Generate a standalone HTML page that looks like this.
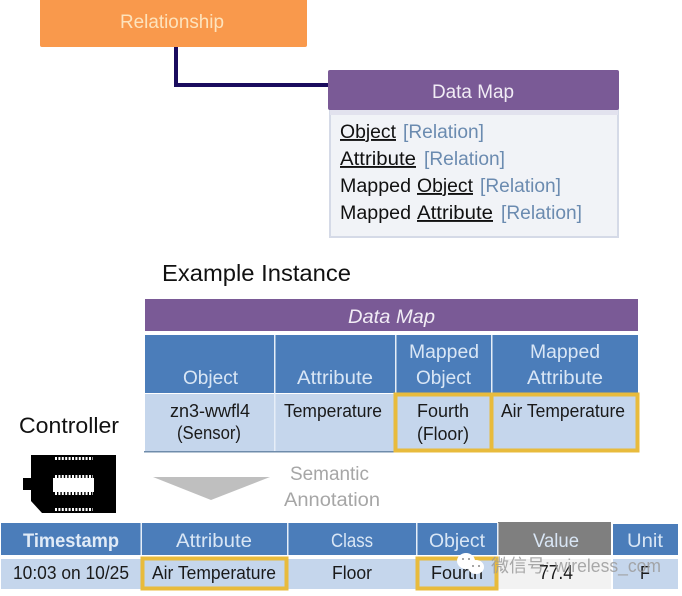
<!DOCTYPE html>
<html>
<head>
<meta charset="utf-8">
<style>
html,body{margin:0;padding:0;background:#fff;width:682px;height:596px;overflow:hidden}
svg{display:block}
text{font-family:"Liberation Sans","Noto Sans CJK SC",sans-serif}
</style>
</head>
<body>
<svg width="682" height="596" viewBox="0 0 682 596" xmlns="http://www.w3.org/2000/svg">
<rect width="682" height="596" fill="#fff"/>

<!-- Relationship -->
<rect x="40" y="-4" width="267" height="51" rx="2" fill="#f9994c"/>
<text x="120" y="28" font-size="19" fill="#fde3bd" textLength="104" lengthAdjust="spacingAndGlyphs">Relationship</text>
<path d="M176 47V85H328" fill="none" stroke="#1a0c5e" stroke-width="4"/>

<!-- Data Map box -->
<rect x="330" y="108" width="288" height="129" fill="#f1f3f7" stroke="#d5dae7" stroke-width="2"/>
<rect x="328" y="70" width="291" height="40" rx="2" fill="#7a5a96"/>
<rect x="330" y="110" width="288" height="5" fill="#e2e2ee"/>
<text x="432" y="98" font-size="19" fill="#f1ecf5" textLength="82" lengthAdjust="spacingAndGlyphs">Data Map</text>
<g font-size="19" fill="#111">
<text x="340" y="138" text-decoration="underline" textLength="56" lengthAdjust="spacingAndGlyphs">Object</text>
<text x="340" y="165" text-decoration="underline" textLength="76" lengthAdjust="spacingAndGlyphs">Attribute</text>
<text x="340" y="192" textLength="71" lengthAdjust="spacingAndGlyphs">Mapped</text>
<text x="417" y="192" text-decoration="underline" textLength="56" lengthAdjust="spacingAndGlyphs">Object</text>
<text x="340" y="219" textLength="71" lengthAdjust="spacingAndGlyphs">Mapped</text>
<text x="417" y="219" text-decoration="underline" textLength="76" lengthAdjust="spacingAndGlyphs">Attribute</text>
</g>
<g font-size="19" fill="#6b8bb0">
<text x="403" y="138" textLength="81" lengthAdjust="spacingAndGlyphs">[Relation]</text>
<text x="424" y="165" textLength="81" lengthAdjust="spacingAndGlyphs">[Relation]</text>
<text x="480" y="192" textLength="81" lengthAdjust="spacingAndGlyphs">[Relation]</text>
<text x="501" y="219" textLength="81" lengthAdjust="spacingAndGlyphs">[Relation]</text>
</g>

<!-- Example Instance -->
<text x="162" y="281" font-size="23" fill="#111" textLength="189" lengthAdjust="spacingAndGlyphs">Example Instance</text>

<!-- Instance table -->
<rect x="145" y="299" width="493" height="32" fill="#7a5a96"/>
<text x="348" y="323" font-size="19" font-style="italic" fill="#f1ecf5" textLength="87" lengthAdjust="spacingAndGlyphs">Data Map</text>
<rect x="145" y="335" width="493" height="58" fill="#4b7dba"/>
<rect x="145" y="394" width="493" height="57" fill="#c5d6ec"/>
<rect x="144" y="451" width="252" height="1.500" fill="#6f8cab"/>
<g fill="#e6eef8">
<rect x="274" y="335" width="1.500" height="116"/>
<rect x="395" y="335" width="1.500" height="58"/>
<rect x="491" y="335" width="1.500" height="58"/>
</g>
<g font-size="19" fill="#d9e6f5">
<text x="183" y="384" textLength="55" lengthAdjust="spacingAndGlyphs">Object</text>
<text x="297" y="384" textLength="76" lengthAdjust="spacingAndGlyphs">Attribute</text>
<text x="409" y="358" textLength="70" lengthAdjust="spacingAndGlyphs">Mapped</text>
<text x="416" y="384" textLength="55" lengthAdjust="spacingAndGlyphs">Object</text>
<text x="530" y="358" textLength="70" lengthAdjust="spacingAndGlyphs">Mapped</text>
<text x="527" y="384" textLength="76" lengthAdjust="spacingAndGlyphs">Attribute</text>
</g>
<g font-size="18" fill="#1a1a1a">
<text x="170" y="417" textLength="80" lengthAdjust="spacingAndGlyphs">zn3-wwfl4</text>
<text x="177" y="439" textLength="64" lengthAdjust="spacingAndGlyphs">(Sensor)</text>
<text x="284" y="417" textLength="98" lengthAdjust="spacingAndGlyphs">Temperature</text>
<text x="417" y="417" textLength="52" lengthAdjust="spacingAndGlyphs">Fourth</text>
<text x="417" y="440" textLength="52" lengthAdjust="spacingAndGlyphs">(Floor)</text>
<text x="501" y="417" textLength="124" lengthAdjust="spacingAndGlyphs">Air Temperature</text>
</g>
<rect x="395.500" y="394.500" width="96" height="56" fill="none" stroke="#e8bb3c" stroke-width="4"/>
<rect x="491.500" y="394.500" width="146" height="56" fill="none" stroke="#e8bb3c" stroke-width="4"/>

<!-- Controller -->
<text x="19" y="433" font-size="22" fill="#111" textLength="100" lengthAdjust="spacingAndGlyphs">Controller</text>
<path d="M31 455H116V513H42L31 501V490H23V478H31Z" fill="#000"/>
<rect x="53" y="478" width="41" height="14" fill="#fff"/>
<path d="M55 476.500H93M55 493.500H93M55 458.500H93M55 509.500H93" stroke="#fff" stroke-width="3" stroke-dasharray="2 1.400" fill="none"/>

<!-- Arrow -->
<polygon points="153,477 270,477 211,500" fill="#bfbfbf"/>
<text x="290" y="480" font-size="19" fill="#a6a6a6" textLength="79" lengthAdjust="spacingAndGlyphs">Semantic</text>
<text x="284" y="506" font-size="19" fill="#a6a6a6" textLength="96" lengthAdjust="spacingAndGlyphs">Annotation</text>

<!-- Bottom table -->
<rect x="1" y="523" width="497" height="32" fill="#4b7dba"/>
<rect x="498" y="522" width="113" height="33" fill="#7f7f7f"/>
<rect x="613" y="524" width="65" height="31" fill="#4b7dba"/>
<rect x="1" y="559" width="497" height="30" fill="#c5d6ec"/>
<rect x="498" y="559" width="113" height="30" fill="#f2f2f2"/>
<rect x="613" y="559" width="65" height="30" fill="#c5d6ec"/>
<g fill="#e6eef8">
<rect x="140.500" y="523" width="1.500" height="32"/>
<rect x="287" y="523" width="1.500" height="32"/>
<rect x="416" y="523" width="1.500" height="32"/>
<rect x="497" y="523" width="1.500" height="32"/>
</g>
<text x="23" y="547" font-size="19" font-weight="bold" fill="#e1ebf7" textLength="96" lengthAdjust="spacingAndGlyphs">Timestamp</text>
<g font-size="19" fill="#d9e6f5">
<text x="176" y="547" textLength="76" lengthAdjust="spacingAndGlyphs">Attribute</text>
<text x="331" y="547" textLength="42" lengthAdjust="spacingAndGlyphs">Class</text>
<text x="429" y="547" textLength="56" lengthAdjust="spacingAndGlyphs">Object</text>
<text x="533" y="547" textLength="46" lengthAdjust="spacingAndGlyphs">Value</text>
<text x="627" y="547" textLength="36" lengthAdjust="spacingAndGlyphs">Unit</text>
</g>
<g font-size="18" fill="#1a1a1a">
<text x="13" y="579" textLength="116" lengthAdjust="spacingAndGlyphs">10:03 on 10/25</text>
<text x="152" y="579" textLength="124" lengthAdjust="spacingAndGlyphs">Air Temperature</text>
<text x="332" y="579" textLength="40" lengthAdjust="spacingAndGlyphs">Floor</text>
<text x="431" y="579" textLength="52" lengthAdjust="spacingAndGlyphs">Fourth</text>
<text x="539" y="579" font-size="20" textLength="34" lengthAdjust="spacingAndGlyphs">77.4</text>
<text x="640" y="579" textLength="10" lengthAdjust="spacingAndGlyphs">F</text>
</g>
<rect x="142.500" y="558.500" width="144" height="30" fill="none" stroke="#e8bb3c" stroke-width="4"/>
<rect x="417.500" y="558.500" width="79" height="30" fill="none" stroke="#e8bb3c" stroke-width="4"/>

<!-- Watermark -->
<ellipse cx="466" cy="561" rx="9" ry="8" fill="#fff"/>
<ellipse cx="476" cy="567" rx="8" ry="7" fill="#fff"/>
<g fill="#8a8a8a">
<circle cx="463" cy="559" r="1"/><circle cx="469" cy="559" r="1"/>
<circle cx="473" cy="566" r="1"/><circle cx="479" cy="566" r="1"/>
</g>
<text x="491" y="572" font-size="18" fill="#9c9c9c" opacity=".85">微信号</text>
<text x="545" y="572" font-size="18" fill="#9c9c9c" opacity=".85" textLength="116" lengthAdjust="spacingAndGlyphs">: wireless_com</text>
</svg>
</body>
</html>
